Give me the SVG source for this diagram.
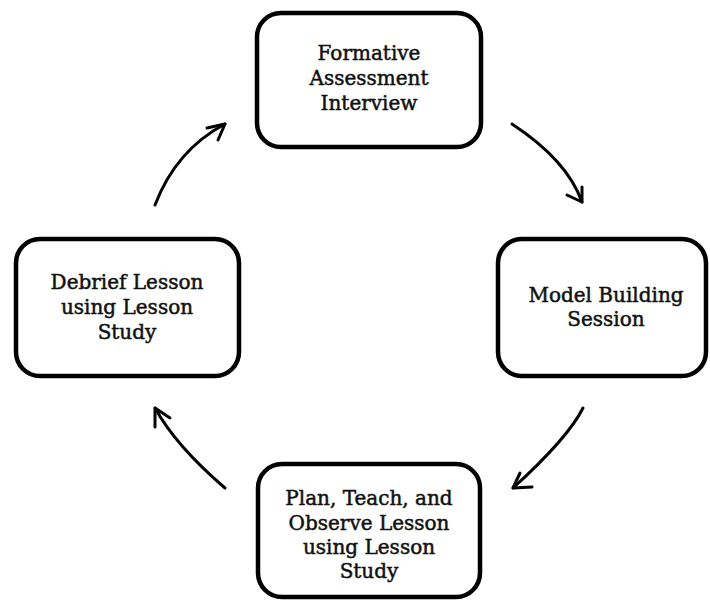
<svg xmlns="http://www.w3.org/2000/svg" width="710" height="601" viewBox="0 0 710 601">
<style>
.box{fill:#fff;stroke:#000;stroke-width:4.5}
.t{font-family:"DejaVu Serif",serif;font-size:20px;fill:#111;text-anchor:middle;stroke:#111;stroke-width:0.5}
.c{fill:none;stroke:#000;stroke-width:3;stroke-linecap:round;stroke-linejoin:round}
</style>
<rect width="710" height="601" fill="#fff"/>
<g id="connectors">
<path class="c" d="M155,205 Q176,150 225,124"/>
<path class="c" d="M207,128 L225,124 L218,140"/>
<path class="c" d="M512,124 Q567,160 582,202"/>
<path class="c" d="M567,195 L582,202 L582,187"/>
<path class="c" d="M583,408 Q568,438 513,488"/>
<path class="c" d="M520,473 L513,488 L532,487"/>
<path class="c" d="M225,488 Q176,446 155,408"/>
<path class="c" d="M155,427 L155,408 L170,418"/>
</g>
<g id="formative">
<rect class="box" x="257" y="13" width="224" height="134" rx="24"/>
<text class="t" x="369" y="60">Formative</text>
<text class="t" x="369" y="85">Assessment</text>
<text class="t" x="369" y="110">Interview</text>
</g>
<g id="model">
<rect class="box" x="498" y="239" width="208" height="137" rx="24"/>
<text class="t" x="606" y="302">Model Building</text>
<text class="t" x="606" y="326">Session</text>
</g>
<g id="plan">
<rect class="box" x="258" y="464" width="222" height="133" rx="24"/>
<text class="t" x="369" y="505">Plan, Teach, and</text>
<text class="t" x="369" y="530">Observe Lesson</text>
<text class="t" x="369" y="554">using Lesson</text>
<text class="t" x="369" y="578">Study</text>
</g>
<g id="debrief">
<rect class="box" x="16" y="239" width="223" height="137" rx="24"/>
<text class="t" x="127" y="289">Debrief Lesson</text>
<text class="t" x="127" y="314">using Lesson</text>
<text class="t" x="127" y="339">Study</text>
</g>
</svg>
